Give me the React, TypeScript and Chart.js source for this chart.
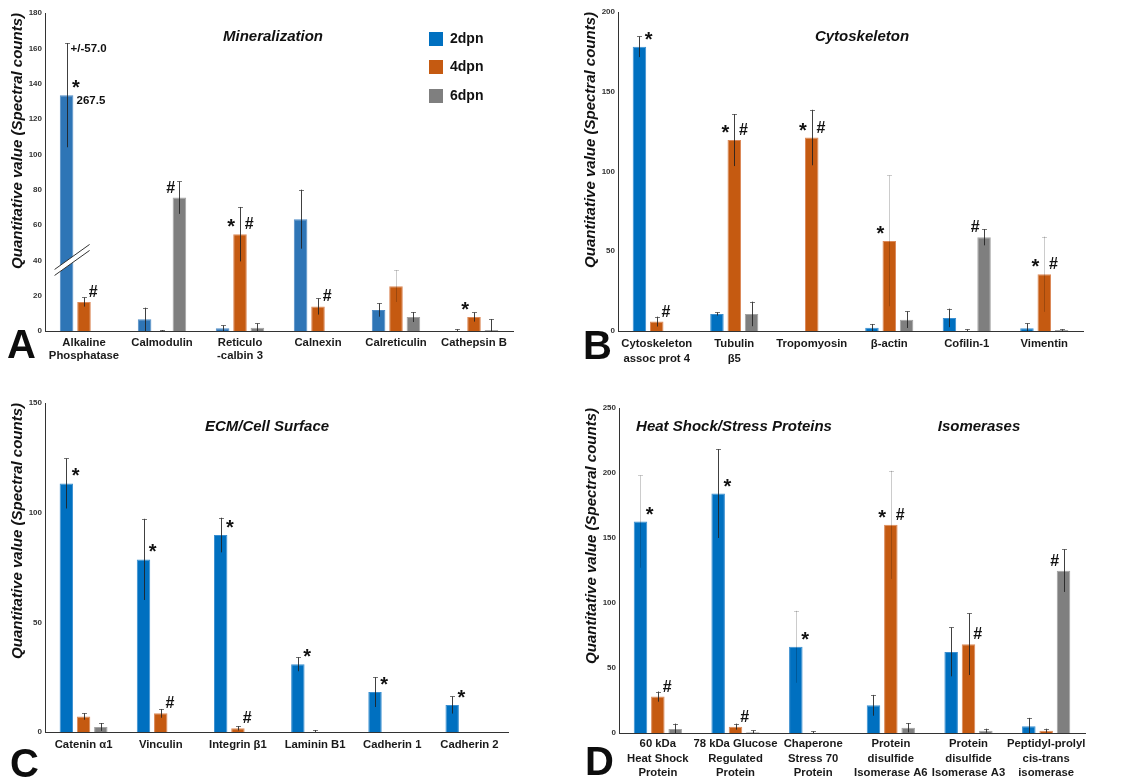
import React, { useEffect, useRef } from 'react';
import { Chart, registerables } from 'chart.js';
Chart.register(...registerables);

const FONT = '"Liberation Sans", Arial, Helvetica, sans-serif';
const SERIES = ['2dpn', '4dpn', '6dpn'];
const Y_TITLE = 'Quantitative value (Spectral counts)';

// ---------- Panel A: Mineralization ----------
const catsA = [['Alkaline', 'Phosphatase'], 'Calmodulin', ['Reticulo', '-calbin 3'], 'Calnexin', 'Calreticulin', 'Cathepsin B'];
const a2 = [133.5, 6.6, 1.5, 63.3, 11.9, 0];
const a2Err = [29.5, 6.6, 1.7, 16.7, 3.8, 1];
const a4 = [16.4, 0, 54.8, 13.9, 25.4, 7.9];
const a4Err = [2.6, 0.5, 15.4, 4.6, 9, 2.6];
const a6 = [0, 75.5, 1.9, 0, 7.9, 0.6];
const a6Err = [0, 9.2, 2.4, 0, 2.8, 6.2];
const markersA = [[0, 0, '*', 'r'], [0, 1, '#', 'r'], [1, 2, '#', 'l'], [2, 1, '*', 'l'], [2, 1, '#', 'r'], [3, 1, '#', 'r'], [5, 1, '*', 'l']];
const lightA = [[4, 1]];

// ---------- Panel B: Cytoskeleton ----------
const catsB = [['Cytoskeleton', 'assoc prot 4'], ['Tubulin', 'β5'], 'Tropomyosin', 'β-actin', 'Cofilin-1', 'Vimentin'];
const b2 = [178.2, 10.7, 0, 2.1, 8.2, 1.7];
const b2Err = [6.5, 1, 0, 2.3, 5.8, 3.1];
const b4 = [5.9, 119.7, 121.3, 56.5, 0, 35.6];
const b4Err = [3.1, 16.3, 17.4, 41, 1, 23.6];
const b6 = [0, 10.7, 0, 7.1, 58.8, 0.6];
const b6Err = [0, 7.7, 0, 5.2, 5.1, 0.5];
const markersB = [[0, 0, '*', 'r'], [0, 1, '#', 'r'], [1, 1, '*', 'l'], [1, 1, '#', 'r'], [2, 1, '*', 'l'], [2, 1, '#', 'r'], [3, 1, '*', 'l'], [4, 2, '#', 'l'], [5, 1, '*', 'l'], [5, 1, '#', 'r']];
const lightB = [[3, 1], [5, 1]];

// ---------- Panel C: ECM/Cell Surface ----------
const catsC = ['Catenin α1', 'Vinculin', 'Integrin β1', 'Laminin B1', 'Cadherin 1', 'Cadherin 2'];
const c2 = [113.3, 78.7, 89.8, 30.9, 18.2, 12.3];
const c2Err = [11.4, 18.5, 7.9, 3.2, 6.8, 3.9];
const c4 = [7.1, 8.5, 1.7, 0, 0, 0];
const c4Err = [1.5, 2, 1, 0.9, 0, 0];
const c6 = [2.3, 0, 0, 0, 0, 0];
const c6Err = [1.8, 0, 0, 0, 0, 0];
const markersC = [[0, 0, '*', 'r'], [1, 0, '*', 'r'], [1, 1, '#', 'r'], [2, 0, '*', 'r'], [2, 1, '#', 'r'], [3, 0, '*', 'r'], [4, 0, '*', 'r'], [5, 0, '*', 'r']];
const lightC: number[][] = [];

// ---------- Panel D: Heat shock / Isomerases ----------
const catsD = [['60 kDa', 'Heat Shock', 'Protein'], ['78 kDa Glucose', 'Regulated', 'Protein'], ['Chaperone', 'Stress 70', 'Protein'], ['Protein', 'disulfide', 'Isomerase A6'], ['Protein', 'disulfide', 'Isomerase A3'], ['Peptidyl-prolyl', 'cis-trans', 'isomerase']];
const d2 = [162.6, 184.2, 66.3, 21.3, 62.4, 5.1];
const d2Err = [35.5, 34.2, 27.7, 8, 18.8, 6.5];
const d4 = [28, 4.9, 0, 160.1, 68.3, 1.8];
const d4Err = [3.9, 2.3, 1.3, 41.6, 23.7, 1.5];
const d6 = [3.1, 0.5, 0, 4.1, 1.8, 124.9];
const d6Err = [4.1, 1.5, 0, 3.6, 1.5, 16.4];
const markersD = [[0, 0, '*', 'r'], [0, 1, '#', 'r'], [1, 0, '*', 'r'], [1, 1, '#', 'r'], [2, 0, '*', 'r'], [3, 1, '*', 'l'], [3, 1, '#', 'r'], [4, 1, '#', 'r'], [5, 2, '#', 'l']];
const lightD = [[0, 0], [2, 0], [3, 1]];

const BLUE_A = '#2E75B6';
const BLUE = '#0070C0';
const ORANGE = '#C55A11';
const GRAY = '#7F7F7F';
const BORDERS: Record<string, string> = { [BLUE_A]: '#4F8CC6', [BLUE]: '#3A8FD0', [ORANGE]: '#DC8A5A', [GRAY]: '#A3A3A3' };

type Panel = any;

const panels: Panel[] = [
  {
    key: 'A', left: 0, top: 0, w: 570, h: 390, area: { l: 45, t: 13, r: 513, b: 331 },
    cats: catsA, values: [a2, a4, a6], errs: [a2Err, a4Err, a6Err], max: 180, step: 20,
    colors: [BLUE_A, ORANGE, GRAY], markers: markersA, light: lightA, lh: 1.1, titlePad: 8.5, tickPad: 6,
    titles: [{ text: 'Mineralization', x: 273, y: 37 }], letter: { text: 'A', x: 7, y: 358 },
    legend: { x: 429, ys: [39, 67, 96] },
    brk: { cat: 0, ds: 0, at: 38 },
    notes: [
      { cat: 0, ds: 0, text: '+/-57.0', anchor: 'err', dx: 4, dy: 6 },
      { cat: 0, ds: 0, text: '267.5', anchor: 'bar', dx: 10, dy: 6 },
    ],
  },
  {
    key: 'B', left: 570, top: 0, w: 571, h: 390, area: { l: 48, t: 12, r: 513, b: 331 },
    cats: catsB, values: [b2, b4, b6], errs: [b2Err, b4Err, b6Err], max: 200, step: 50,
    colors: [BLUE, ORANGE, GRAY], markers: markersB, light: lightB, lh: 1.3, titlePad: 12, tickPad: 6,
    titles: [{ text: 'Cytoskeleton', x: 292, y: 37 }], letter: { text: 'B', x: 13, y: 359 },
  },
  {
    key: 'C', left: 0, top: 390, w: 570, h: 392, area: { l: 45, t: 13, r: 508, b: 342 },
    cats: catsC, values: [c2, c4, c6], errs: [c2Err, c4Err, c6Err], max: 150, step: 50,
    colors: [BLUE, ORANGE, GRAY], markers: markersC, light: lightC, lh: 1.2, titlePad: 8.5, tickPad: 6,
    titles: [{ text: 'ECM/Cell Surface', x: 267, y: 37 }], letter: { text: 'C', x: 10, y: 387 },
  },
  {
    key: 'D', left: 570, top: 390, w: 571, h: 392, area: { l: 49, t: 18, r: 515, b: 343 },
    cats: catsD, values: [d2, d4, d6], errs: [d2Err, d4Err, d6Err], max: 250, step: 50,
    colors: [BLUE, ORANGE, GRAY], markers: markersD, light: lightD, lh: 1.27, titlePad: 12.5, tickPad: 4,
    titles: [{ text: 'Heat Shock/Stress Proteins', x: 164, y: 37 }, { text: 'Isomerases', x: 409, y: 37 }],
    letter: { text: 'D', x: 15, y: 385 },
  },
];

function makeDecor(p: Panel) {
  return {
    id: 'decor' + p.key,
    afterDatasetsDraw(chart: any) {
      const ctx = chart.ctx;
      const ys = chart.scales.y;
      const bar = (ds: number, i: number) => chart.getDatasetMeta(ds).data[i].getProps(['x', 'y', 'width', 'base'], true);

      // axis break
      if (p.brk) {
        const b = bar(p.brk.ds, p.brk.cat);
        const yc = ys.getPixelForValue(p.brk.at);
        const x0 = b.x - 12, x1 = b.x + 23;
        const slope = -25 / 35;
        const yAt = (x: number, off: number) => yc + (x - b.x) * slope + off;
        ctx.save();
        ctx.fillStyle = '#ffffff';
        ctx.beginPath();
        ctx.moveTo(x0, yAt(x0, -3));
        ctx.lineTo(x1, yAt(x1, -3));
        ctx.lineTo(x1, yAt(x1, 3));
        ctx.lineTo(x0, yAt(x0, 3));
        ctx.closePath();
        ctx.fill();
        ctx.strokeStyle = '#333';
        ctx.lineWidth = 1;
        for (const off of [-3, 3]) {
          ctx.beginPath();
          ctx.moveTo(x0, yAt(x0, off));
          ctx.lineTo(x1, yAt(x1, off));
          ctx.stroke();
        }
        ctx.restore();
      }

      // error bars
      ctx.save();
      p.errs.forEach((arr: number[], ds: number) => {
        arr.forEach((e: number, i: number) => {
          if (!e) return;
          const v = p.values[ds][i];
          const b = bar(ds, i);
          const isLight = p.light.some((l: number[]) => l[0] === i && l[1] === ds);
          const x = Math.round(b.x) + 0.5;
          const yTop = ys.getPixelForValue(v + e);
          const yBot = ys.getPixelForValue(Math.max(0, v - e));
          ctx.strokeStyle = isLight ? 'rgba(0,0,0,0.2)' : 'rgba(30,30,30,0.85)';
          ctx.lineWidth = 1;
          ctx.beginPath();
          ctx.moveTo(x, yBot);
          ctx.lineTo(x, yTop);
          ctx.stroke();
          ctx.strokeStyle = isLight ? 'rgba(0,0,0,0.2)' : 'rgba(60,60,60,0.7)';
          ctx.beginPath();
          ctx.moveTo(x - 2.5, Math.round(yTop) + 0.5);
          ctx.lineTo(x + 2.5, Math.round(yTop) + 0.5);
          ctx.stroke();
        });
      });
      ctx.restore();

      // significance markers
      ctx.save();
      ctx.fillStyle = '#111';
      ctx.textAlign = 'center';
      ctx.textBaseline = 'alphabetic';
      p.markers.forEach((m: any[]) => {
        const [cat, ds, sym, side] = m;
        const b = bar(ds, cat);
        ctx.font = `bold ${sym === '*' ? 20 : 16}px ${FONT}`;
        const mt = ctx.measureText(sym);
        const cx = side === 'r' ? b.x + b.width / 2 + 2.5 : b.x - b.width / 2 - 2;
        const cy = b.y - 11;
        ctx.fillText(sym, cx, cy + (mt.actualBoundingBoxAscent - mt.actualBoundingBoxDescent) / 2);
      });
      ctx.restore();

      // notes
      if (p.notes) {
        ctx.save();
        ctx.fillStyle = '#111';
        ctx.font = `bold 11.5px ${FONT}`;
        ctx.textAlign = 'left';
        ctx.textBaseline = 'middle';
        p.notes.forEach((n: any) => {
          const b = bar(n.ds, n.cat);
          const v = p.values[n.ds][n.cat];
          const yRef = n.anchor === 'err' ? ys.getPixelForValue(v + p.errs[n.ds][n.cat]) : b.y;
          ctx.fillText(n.text, b.x + n.dx, yRef + n.dy);
        });
        ctx.restore();
      }
    },
    afterDraw(chart: any) {
      const ctx = chart.ctx;
      ctx.save();
      // panel titles
      ctx.fillStyle = '#111';
      ctx.font = `italic bold 15px ${FONT}`;
      ctx.textAlign = 'center';
      ctx.textBaseline = 'middle';
      p.titles.forEach((t: any) => ctx.fillText(t.text, t.x, t.y));
      // panel letter
      ctx.font = `bold 40px ${FONT}`;
      ctx.textAlign = 'left';
      ctx.textBaseline = 'alphabetic';
      ctx.fillStyle = '#0d0d0d';
      ctx.fillText(p.letter.text, p.letter.x, p.letter.y);
      // legend
      if (p.legend) {
        chart.data.datasets.forEach((d: any, i: number) => {
          const cy = p.legend.ys[i];
          ctx.fillStyle = i === 0 ? BLUE : d.backgroundColor;
          ctx.fillRect(p.legend.x, cy - 7, 14, 14);
          ctx.fillStyle = '#111';
          ctx.font = `bold 14px ${FONT}`;
          ctx.textBaseline = 'middle';
          ctx.fillText(d.label, p.legend.x + 21, cy + 0.5);
        });
      }
      ctx.restore();
    },
  };
}

function makeConfig(p: Panel): any {
  return {
    type: 'bar',
    data: {
      labels: p.cats,
      datasets: p.values.map((v: number[], i: number) => ({
        label: SERIES[i],
        data: v,
        backgroundColor: p.colors[i],
        borderColor: BORDERS[p.colors[i]],
        borderWidth: 1,
        borderSkipped: 'start',
        categoryPercentage: 0.67,
        barPercentage: 0.78,
      })),
    },
    options: {
      animation: false,
      responsive: false,
      devicePixelRatio: 1,
      layout: { padding: { left: 0, top: p.area.t, right: p.w - p.area.r, bottom: 0 } },
      plugins: { legend: { display: false }, tooltip: { enabled: false }, title: { display: false } },
      scales: {
        x: {
          grid: { display: false, drawTicks: false },
          border: { display: true, color: '#333', width: 1 },
          ticks: {
            color: '#1a1a1a',
            font: { family: FONT, size: 11.3, weight: 'bold', lineHeight: p.lh },
            padding: p.tickPad, maxRotation: 0, minRotation: 0, autoSkip: false,
          },
          afterFit: (s: any) => { s.height = p.h - p.area.b; },
        },
        y: {
          min: 0, max: p.max,
          grid: { display: false, drawTicks: false },
          border: { display: true, color: '#333', width: 1 },
          ticks: { stepSize: p.step, color: '#333', font: { family: FONT, size: 8, weight: 'bold' }, padding: 3 },
          title: {
            display: true, text: Y_TITLE, align: 'end', color: '#111',
            font: { family: FONT, size: 15, weight: 'bold', style: 'italic' },
            padding: { top: p.titlePad, bottom: 0 },
          },
          afterFit: (s: any) => { s.width = p.area.l; },
        },
      },
    },
    plugins: [makeDecor(p)],
  };
}

function PanelChart({ p }: { p: Panel }) {
  const ref = useRef<HTMLCanvasElement | null>(null);
  useEffect(() => {
    if (!ref.current) return;
    const chart = new Chart(ref.current, makeConfig(p));
    return () => chart.destroy();
  }, [p]);
  return (
    <canvas
      ref={ref}
      width={p.w}
      height={p.h}
      style={{ position: 'absolute', left: p.left, top: p.top, width: p.w, height: p.h }}
    />
  );
}

export default function App() {
  return (
    <div style={{ position: 'fixed', left: 0, top: 0, width: 1141, height: 782, background: '#fff', overflow: 'hidden' }}>
      {panels.map((p) => <PanelChart key={p.key} p={p} />)}
    </div>
  );
}
